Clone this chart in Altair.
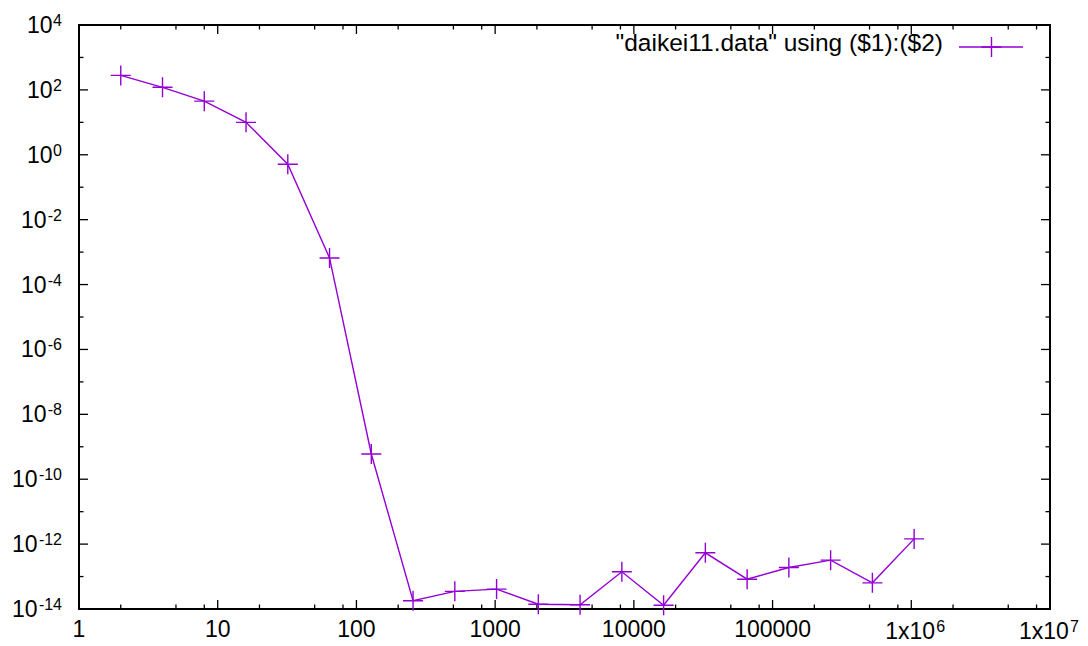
import altair as alt
import pandas as pd

# ---- data ----
x_vals = [2, 4, 8, 16, 32, 64, 128, 256, 512, 1024, 2048, 4096, 8192, 16384,
          32768, 65536, 131072, 262144, 524288, 1048576]
y_vals = [280, 120, 45, 10, 0.51, 6.6e-4, 6e-10, 1.8e-14, 3.5e-14, 4.1e-14,
          1.4e-14, 1.35e-14, 1.4e-13, 1.3e-14, 5.4e-13, 8.3e-14, 1.9e-13,
          3.2e-13, 6.4e-14, 1.45e-12]
series_label = '"daikei11.data" using ($1):($2)'

x_major = [1, 10, 100, 1000, 10000, 100000, 1000000, 10000000]
x_plain_ticks = [1, 10, 100, 1000, 10000, 100000]
x_plain_labels = ["1", "10", "100", "1000", "10000", "100000"]
x_sci_ticks = [1000000, 10000000]
x_sci_exps = ["6", "7"]
x_minor = [2, 5, 8, 20, 50, 80, 200, 500, 800, 2000, 5000, 8000,
           20000, 50000, 80000, 200000, 500000, 800000,
           2000000, 5000000, 8000000]

y_major = [1e4, 1e2, 1e0, 1e-2, 1e-4, 1e-6, 1e-8, 1e-10, 1e-12, 1e-14]
y_exps = ["4", "2", "0", "-2", "-4", "-6", "-8", "-10", "-12", "-14"]
y_minor = [1e3, 1e1, 1e-1, 1e-3, 1e-5, 1e-7, 1e-9, 1e-11, 1e-13]

# ---- layout / style ----
W, H = 971, 584
PURPLE = "#9400d3"
FONT = "Liberation Sans"
FS = 23
FS_EXP = 16
MAJ, MIN = 9, 4.5

xs = alt.Scale(type="log", domain=[1, 1e7], nice=False)
ys = alt.Scale(type="log", domain=[1e-14, 1e4], nice=False)

df = pd.DataFrame({"x": x_vals, "y": y_vals})
X = alt.X("x:Q", scale=xs, axis=None)
Y = alt.Y("y:Q", scale=ys, axis=None)

line = alt.Chart(df).mark_line(color=PURPLE, strokeWidth=1.4).encode(x=X, y=Y)
pts = alt.Chart(df).mark_point(shape="M-1,0H1M0,-1V1", size=400, filled=False,
                               color=PURPLE, strokeWidth=1.4, opacity=1).encode(x=X, y=Y)

xmaj = pd.DataFrame({"v": x_major})
xmin = pd.DataFrame({"v": x_minor})
ymaj = pd.DataFrame({"v": y_major})
ymin = pd.DataFrame({"v": y_minor})
XV = alt.X("v:Q", scale=xs, axis=None)
YV = alt.Y("v:Q", scale=ys, axis=None)

def xticks(d, L):
    b = alt.Chart(d).mark_rule(color="black", strokeWidth=1.3).encode(
        x=XV, y=alt.value(H), y2=alt.value(H - L))
    t = alt.Chart(d).mark_rule(color="black", strokeWidth=1.3).encode(
        x=XV, y=alt.value(0), y2=alt.value(L))
    return [b, t]

def yticks(d, L):
    l = alt.Chart(d).mark_rule(color="black", strokeWidth=1.3).encode(
        y=YV, x=alt.value(0), x2=alt.value(L))
    r = alt.Chart(d).mark_rule(color="black", strokeWidth=1.3).encode(
        y=YV, x=alt.value(W), x2=alt.value(W - L))
    return [l, r]

ticks = xticks(xmaj, MAJ) + xticks(xmin, MIN) + yticks(ymaj, MAJ) + yticks(ymin, MIN)

# x labels
xpl = pd.DataFrame({"v": x_plain_ticks, "t": x_plain_labels})
xlab = alt.Chart(xpl).mark_text(align="center", baseline="alphabetic",
                                font=FONT, fontSize=FS, color="black").encode(
    x=XV, y=alt.value(H + 28), text="t:N")

sci_layers = []
for i, (dxb, dxe) in enumerate([(-26, 25), (-31, 20)]):
    d = pd.DataFrame({"v": [x_sci_ticks[i]], "t": ["1x10"], "e": [x_sci_exps[i]]})
    sci_layers.append(alt.Chart(d).mark_text(align="left", baseline="alphabetic", dx=dxb,
                                             font=FONT, fontSize=FS, color="black").encode(
        x=XV, y=alt.value(H + 29.5), text="t:N"))
    sci_layers.append(alt.Chart(d).mark_text(align="left", baseline="alphabetic", dx=dxe,
                                             font=FONT, fontSize=FS_EXP, color="black").encode(
        x=XV, y=alt.value(H + 22.5), text="e:N"))

# y labels: "10" + superscript exponent, right-aligned as one string
ylab_df = pd.DataFrame({"v": y_major, "e": y_exps, "b": ["10"] * len(y_major)})
EXP_RIGHT = -17
exp_w = {1: 8.9, 2: 15.0, 3: 24.0}
ylayers = []
ylayers.append(alt.Chart(ylab_df).mark_text(align="right", baseline="alphabetic",
                                            dx=EXP_RIGHT, dy=1, font=FONT,
                                            fontSize=FS_EXP, color="black").encode(
    x=alt.value(0), y=YV, text="e:N"))
for n, w in exp_w.items():
    sub = ylab_df[ylab_df["e"].str.len() == n]
    ylayers.append(alt.Chart(sub).mark_text(align="right", baseline="alphabetic",
                                            dx=EXP_RIGHT - w - 0.5, dy=8, font=FONT,
                                            fontSize=FS, color="black").encode(
        x=alt.value(0), y=YV, text="b:N"))

# legend (key)
key = pd.DataFrame({"t": [series_label]})
key_text = alt.Chart(key).mark_text(align="right", baseline="alphabetic", font=FONT,
                                    fontSize=24.5, color="black").encode(
    x=alt.value(864), y=alt.value(26), text="t:N")
key_line = alt.Chart(key).mark_rule(color=PURPLE, strokeWidth=1.4).encode(
    x=alt.value(880), x2=alt.value(944), y=alt.value(22))
key_pt = alt.Chart(key).mark_point(shape="M-1,0H1M0,-1V1", size=400, filled=False,
                                   color=PURPLE, strokeWidth=1.4, opacity=1).encode(
    x=alt.value(912.5), y=alt.value(22))

chart = alt.layer(
    *ticks, line, pts, xlab, *sci_layers, *ylayers, key_text, key_line, key_pt
).properties(
    width=W, height=H,
    autosize=alt.AutoSizeParams(type="none"),
    padding={"left": 71, "top": 17, "right": 30, "bottom": 35},
    background="white",
).configure_view(stroke="black", strokeWidth=2)

chart.save("out.html", embed_options={"renderer": "svg", "actions": False})
